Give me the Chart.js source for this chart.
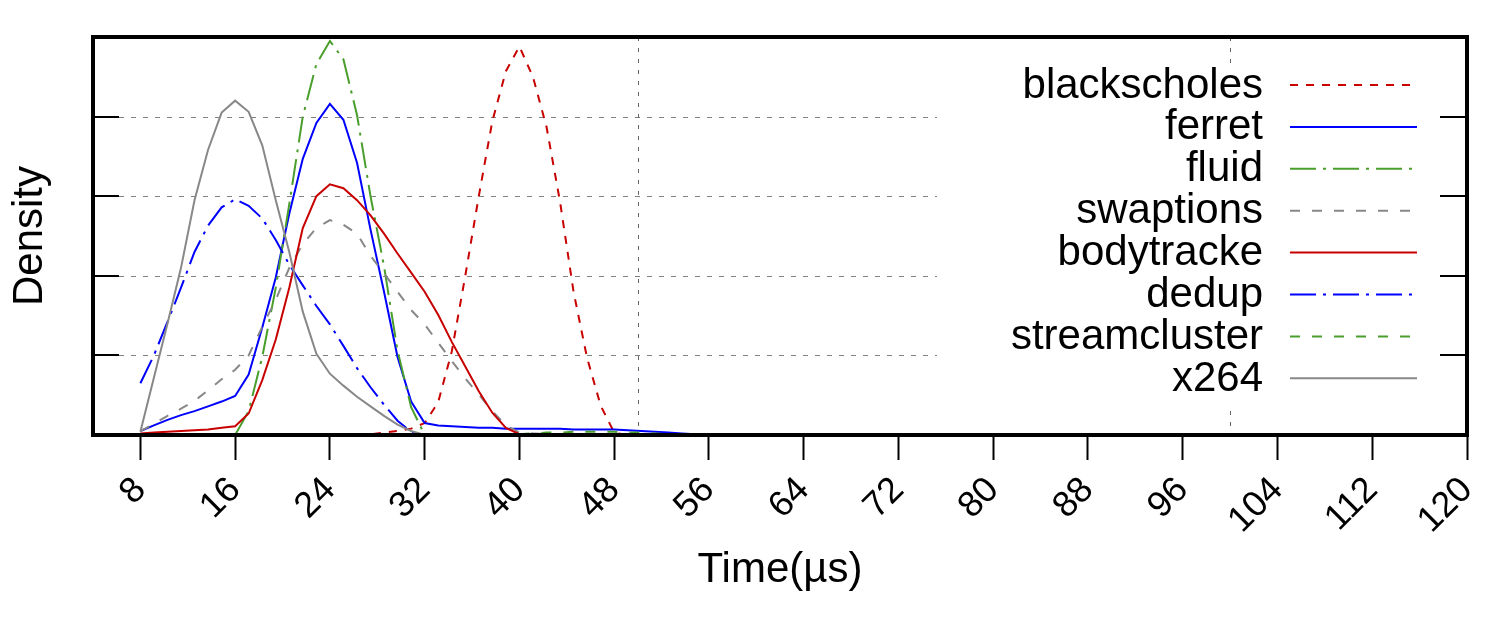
<!DOCTYPE html>
<html>
<head>
<meta charset="utf-8">
<script src="https://cdn.jsdelivr.net/npm/chart.js@4.4.1/dist/chart.umd.min.js"></script>
<style>
  html, body { margin: 0; padding: 0; background: #fff; }
  #wrap { width: 1491px; height: 618px; }
</style>
</head>
<body>
<div id="wrap"><canvas id="grafico" width="1491" height="618"></canvas></div>
<script>
// sample positions (Time, us)
const times = [8, 9.14, 10.29, 11.43, 12.57, 13.71, 14.86, 16, 17.14, 18.29, 19.43, 20.57, 21.71, 22.86,
  24, 25.14, 26.29, 27.43, 28.57, 29.71, 30.86, 32, 33.14, 34.29, 35.43, 36.57, 37.71, 38.86,
  40, 41.14, 42.29, 43.43, 44.57, 45.71, 46.86, 48, 49.14, 50.29, 51.43, 52.57, 53.71, 54.86, 56];

const blackscholes = [null, null, null, null, null, null, null, null, null, null, null, null, null, null,
  null, null, 0, 0.01, 0.03, 0.05, 0.08, 0.15, 0.41, 1.05, 2.0, 3.0, 3.94, 4.57,
  4.88, 4.5, 3.87, 2.93, 1.8, 0.97, 0.37, 0.03, 0, null, null, null, null, null, null];
const ferret = [0.05, 0.12, 0.19, 0.25, 0.30, 0.36, 0.42, 0.49, 0.76, 1.35, 1.98, 2.78, 3.47, 3.92,
  4.16, 3.96, 3.42, 2.58, 1.8, 0.98, 0.42, 0.15, 0.12, 0.11, 0.10, 0.09, 0.09, 0.08,
  0.08, 0.08, 0.08, 0.08, 0.07, 0.07, 0.07, 0.07, 0.06, 0.05, 0.04, 0.03, 0.02, 0.01, 0];
const fluid = [null, null, null, null, null, null, null, 0, 0.3, 0.98, 1.85, 2.9, 4.0, 4.66,
  4.95, 4.72, 4.02, 3.0, 2.12, 1.06, 0.35, 0, null, null, null, null, null, null,
  null, null, null, null, null, null, null, null, null, null, null, null, null, null, null];
const swaptions = [0.05, 0.14, 0.24, 0.33, 0.43, 0.56, 0.70, 0.82, 1.0, 1.36, 1.7, 2.1, 2.4, 2.6,
  2.7, 2.64, 2.53, 2.25, 2.03, 1.8, 1.57, 1.39, 1.16, 0.93, 0.71, 0.51, 0.30, 0.12,
  0.03, 0.02, 0.01, 0.01, 0.01, 0.01, 0.01, 0.01, null, null, null, null, null, null, null];
const bodytracke = [0.02, 0.03, 0.04, 0.05, 0.06, 0.07, 0.09, 0.11, 0.27, 0.69, 1.2, 1.85, 2.6, 3.0,
  3.15, 3.1, 2.95, 2.76, 2.53, 2.28, 2.04, 1.8, 1.51, 1.17, 0.86, 0.55, 0.28, 0.09,
  0.01, 0, null, null, null, null, null, null, null, null, null, null, null, null, null];
const dedup = [0.65, 1.0, 1.42, 1.85, 2.3, 2.63, 2.86, 2.96, 2.88, 2.72, 2.45, 2.14, 1.88, 1.62,
  1.39, 1.12, 0.84, 0.6, 0.38, 0.18, 0.04, 0, null, null, null, null, null, null,
  null, null, null, null, null, null, null, null, null, null, null, null, null, null, null];
const streamcluster = [null, null, null, null, null, null, null, null, null, null, null, null, null, null,
  null, null, null, null, null, null, null, null, null, null, null, null, null, null,
  0.01, 0.02, 0.03, 0.03, 0.04, 0.04, 0.04, 0.04, 0.03, 0.03, 0.02, 0.01, 0, null, null];
const x264 = [0.04, 0.72, 1.4, 2.1, 2.95, 3.58, 4.05, 4.2, 4.06, 3.64, 2.95, 2.3, 1.55, 1.02,
  0.77, 0.62, 0.48, 0.36, 0.24, 0.13, 0.05, 0, 0.01, 0.01, 0.01, 0.01, 0.01, 0.01,
  0.01, null, null, null, null, null, null, null, null, null, null, null, null, null, null];

const xTicks = [8, 16, 24, 32, 40, 48, 56, 64, 72, 80, 88, 96, 104, 112, 120];
const yGridLines = [1, 2, 3, 4];
const xGridLines = [50, 100];

const RED = '#c80000', BLUE = '#0000ff', GREEN = '#4a9e2c', GREY = '#888888';
const FONT = "'Liberation Sans', Arial, Helvetica, sans-serif";

const series = [
  { label: 'blackscholes', values: blackscholes, color: RED, dash: [8, 8] },
  { label: 'ferret', values: ferret, color: BLUE, dash: [] },
  { label: 'fluid', values: fluid, color: GREEN, dash: [26, 7, 3, 7] },
  { label: 'swaptions', values: swaptions, color: GREY, dash: [10, 12] },
  { label: 'bodytracke', values: bodytracke, color: RED, dash: [] },
  { label: 'dedup', values: dedup, color: BLUE, dash: [26, 7, 3, 7] },
  { label: 'streamcluster', values: streamcluster, color: GREEN, dash: [10, 12] },
  { label: 'x264', values: x264, color: GREY, dash: [] }
];

function line(ctx, x1, y1, x2, y2) {
  ctx.beginPath();
  ctx.moveTo(x1, y1);
  ctx.lineTo(x2, y2);
  ctx.stroke();
}

// gnuplot-like frame, grid and opaque key box
const gnuFrame = {
  id: 'gnuFrame',
  beforeDatasetsDraw(chart) {
    const { ctx, chartArea: a, scales: { x, y } } = chart;
    ctx.save();
    ctx.strokeStyle = '#808080';
    ctx.lineWidth = 1;
    ctx.setLineDash([5, 7]);
    yGridLines.forEach(v => {
      const py = Math.round(y.getPixelForValue(v)) + 0.5;
      line(ctx, a.left + 26, py, a.right - 26, py);
    });
    ctx.strokeStyle = '#666';
    ctx.setLineDash([4, 7]);
    xGridLines.forEach(v => {
      const px = Math.round(x.getPixelForValue(v)) + 0.5;
      line(ctx, px, a.top, px, a.bottom);
    });
    // key box (opaque)
    ctx.fillStyle = '#fff';
    ctx.fillRect(a.right - 530, a.top + 28, 503, 340);
    ctx.restore();
  },
  afterDatasetsDraw(chart) {
    const { ctx, chartArea: a, scales: { y } } = chart;
    ctx.save();
    // inward y ticks on both sides
    ctx.strokeStyle = '#000';
    ctx.lineWidth = 2;
    ctx.setLineDash([]);
    yGridLines.forEach(v => {
      const py = Math.round(y.getPixelForValue(v));
      line(ctx, a.left, py, a.left + 26, py);
      line(ctx, a.right - 27, py, a.right, py);
    });
    // border
    ctx.lineWidth = 4;
    ctx.strokeRect(a.left, a.top, a.right - a.left, a.bottom - a.top);

    // key
    ctx.font = '42px ' + FONT;
    ctx.textAlign = 'right';
    ctx.textBaseline = 'middle';
    ctx.fillStyle = '#000';
    const textRight = a.right - 204;
    const lx1 = a.right - 177, lx2 = a.right - 50;
    series.forEach((s, i) => {
      const ry = a.top + 48 + i * 41.9;
      ctx.fillText(s.label, textRight, ry + 1);
      ctx.strokeStyle = s.color;
      ctx.lineWidth = 2;
      ctx.setLineDash(s.dash);
      line(ctx, lx1, ry, lx2, ry);
    });
    ctx.restore();
  }
};

const ctx = document.getElementById('grafico').getContext('2d');

new Chart(ctx, {
  type: 'line',
  data: {
    datasets: series.map((s, i) => ({
      label: s.label,
      data: times.map((t, k) => ({ x: t, y: s.values[k] })),
      borderColor: s.color,
      borderWidth: 2,
      borderDash: s.dash,
      pointRadius: 0,
      tension: 0,
      fill: false,
      spanGaps: false,
      order: series.length - i
    }))
  },
  options: {
    responsive: false,
    animation: false,
    devicePixelRatio: 1,
    layout: { padding: { top: 37, right: 24, left: 0, bottom: 0 } },
    plugins: {
      legend: { display: false },
      tooltip: { enabled: false }
    },
    scales: {
      x: {
        type: 'linear',
        position: 'bottom',
        min: 4,
        max: 120,
        afterBuildTicks: scale => { scale.ticks = xTicks.map(v => ({ value: v })); },
        afterFit: scale => {
          scale.height = 183;
          scale.paddingLeft = 0;
          scale.paddingRight = 0;
        },
        border: { display: false },
        grid: {
          drawOnChartArea: false,
          drawTicks: true,
          tickLength: 25,
          tickColor: '#000',
          tickWidth: 2,
          color: '#000'
        },
        ticks: {
          autoSkip: false,
          minRotation: 45,
          maxRotation: 45,
          padding: 9,
          color: '#000',
          font: { family: FONT, size: 36 }
        },
        title: {
          display: true,
          text: 'Time(µs)',
          color: '#000',
          font: { family: FONT, size: 42 },
          padding: { top: 22, bottom: 22 }
        }
      },
      y: {
        min: 0,
        max: 5,
        afterFit: scale => { scale.width = 93; },
        border: { display: false },
        grid: { display: false },
        ticks: { display: false },
        title: {
          display: true,
          text: 'Density',
          color: '#000',
          font: { family: FONT, size: 42 },
          padding: { top: 5, bottom: 5 }
        }
      }
    }
  },
  plugins: [gnuFrame]
});
</script>
</body>
</html>
